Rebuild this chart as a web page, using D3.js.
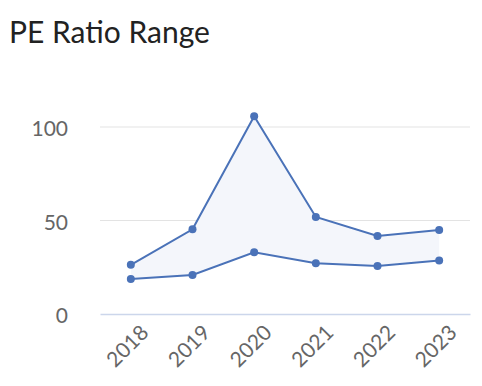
<!DOCTYPE html>
<html>
<head>
<meta charset="utf-8">
<script src="https://cdn.jsdelivr.net/npm/d3@7"></script>
<style>
  body { margin: 0; background: #fff; }
  svg { font-family: Lato, "Open Sans", sans-serif; }
</style>
</head>
<body>
<div class="viz"></div>
<script>
// data
var years = ["2018", "2019", "2020", "2021", "2022", "2023"];
var highPE = [26.3, 45.3, 105.7, 51.9, 41.7, 44.9];
var lowPE = [18.7, 20.9, 33.0, 27.2, 25.7, 28.6];
var yTicks = [0, 50, 100];

var data = years.map(function(y, i) {
    return { year: y, high: highPE[i], low: lowPE[i] };
});

var W = 482, H = 386;
var margin = {top: 127, right: 12, bottom: 72, left: 100},
    width = W - margin.left - margin.right,
    height = H - margin.top - margin.bottom;

var svg = d3.select(".viz")
  .append("svg")
    .attr("width", W)
    .attr("height", H);

svg.append("text")
    .attr("x", 9)
    .attr("y", 43)
    .attr("fill", "#222")
    .style("font-size", "30px")
    .text("PE Ratio Range");

var g = svg.append("g")
    .attr("transform", "translate(" + margin.left + "," + margin.top + ")");

var x = d3.scaleBand()
    .domain(years)
    .range([0, width]);

var y = d3.scaleLinear()
    .domain([0, 100])
    .range([height, 0]);

// gridlines
g.append("g")
    .selectAll("line")
    .data(yTicks.filter(function(t) { return t > 0; }))
    .join("line")
      .attr("x1", 0)
      .attr("x2", width)
      .attr("y1", function(d) { return y(d); })
      .attr("y2", function(d) { return y(d); })
      .attr("stroke", "#e3e3e3")
      .attr("stroke-width", 1);

// y axis labels
var yAxis = g.append("g")
    .call(d3.axisLeft(y).tickValues(yTicks).tickSize(0).tickPadding(32));
yAxis.select(".domain").remove();
yAxis.selectAll("text")
    .attr("fill", "#666")
    .attr("dy", "0.42em")
    .style("font-size", "21px")
    .style("font-family", "Lato, sans-serif");

// x axis
var xAxis = g.append("g")
    .attr("transform", "translate(0," + height + ")")
    .call(d3.axisBottom(x).tickSize(0));
xAxis.select(".domain")
    .attr("stroke", "#ccd6eb")
    .attr("stroke-width", 1.5);
xAxis.selectAll("text")
    .attr("fill", "#666")
    .style("font-size", "21px")
    .style("font-family", "Lato, sans-serif")
    .attr("text-anchor", "end")
    .attr("dy", 0)
    .attr("transform", "translate(19,20) rotate(-45)")
    .attr("y", 0);

var cx = function(d) { return x(d.year) + x.bandwidth() / 2; };

// range area
g.append("path")
    .datum(data)
    .attr("fill", "#f4f6fb")
    .attr("d", d3.area()
        .x(cx)
        .y0(function(d) { return y(d.low); })
        .y1(function(d) { return y(d.high); }));

["high", "low"].forEach(function(key) {
    g.append("path")
        .datum(data)
        .attr("fill", "none")
        .attr("stroke", "#4a72b8")
        .attr("stroke-width", 2)
        .attr("d", d3.line()
            .x(cx)
            .y(function(d) { return y(d[key]); }));

    g.append("g")
        .selectAll("circle")
        .data(data)
        .join("circle")
          .attr("cx", cx)
          .attr("cy", function(d) { return y(d[key]); })
          .attr("r", 4)
          .attr("fill", "#4a72b8");
});
</script>
</body>
</html>
